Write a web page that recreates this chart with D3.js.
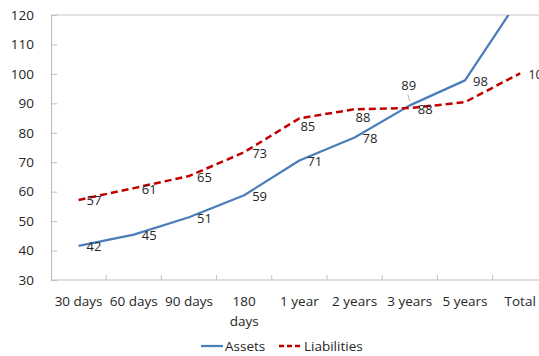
<!DOCTYPE html>
<html>
<head>
<meta charset="utf-8">
<script src="https://cdn.jsdelivr.net/npm/d3@7"></script>
<style>
  html, body { margin: 0; padding: 0; background: #fff; overflow: hidden; }
  svg { display: block; font-family: "Open Sans", "Noto Sans", sans-serif; }
</style>
</head>
<body>
<svg id="chart" width="539" height="356"></svg>
<script>
// ---- data ----
const categories = ["30 days", "60 days", "90 days", "180 days", "1 year", "2 years", "3 years", "5 years", "Total"];
const assetsValues = [41.6, 45.4, 51.3, 58.8, 70.6, 78.4, 89.3, 97.8, 126];
const liabilitiesValues = [57.2, 61.2, 65.3, 73.4, 84.9, 88.0, 88.4, 90.4, 100.2];
const yTicks = [30, 40, 50, 60, 70, 80, 90, 100, 110, 120];
const seriesNames = ["Assets", "Liabilities"];
// label placement per point ("none" = not shown in the picture)
const assetsLabelPos = ["right", "right", "right", "right", "right", "right", "above", "right", "none"];
const liabilitiesLabelPos = ["right", "right", "right", "right", "below", "below", "right", "none", "right"];

(function () {
// ---- layout ----
const svg = d3.select("#chart");
const pLeft = 51, pTop = 15, pBottom = 280, bandW = 55.2;
const pRight = pLeft + bandW * categories.length;
const textColor = "#262626";
const fontSize = 13;

const x = d3.scaleBand().domain(categories).range([pLeft, pRight]).paddingInner(0).paddingOuter(0);
const y = d3.scaleLinear().domain([30, 120]).range([pBottom, pTop]);
const cx = c => x(c) + x.bandwidth() / 2;

// top line at 120
svg.append("line").attr("x1", pLeft).attr("x2", pRight).attr("y1", y(120)).attr("y2", y(120))
  .attr("stroke", "#D9D9D9").attr("stroke-width", 1.5);

// y axis
const yAxis = d3.axisLeft(y).tickValues(yTicks).tickSize(-6).tickPadding(17);
const gy = svg.append("g").attr("transform", `translate(${pLeft},0)`).call(yAxis);
gy.select(".domain").attr("stroke", "#BFBFBF").attr("stroke-width", 1.2);
gy.selectAll(".tick line").attr("stroke", "#BFBFBF");
gy.selectAll(".tick text").attr("fill", textColor).style("font-size", "13.5px")
  .style("font-family", '"Open Sans", "Noto Sans", sans-serif');

// x axis
const gx = svg.append("g").attr("transform", `translate(0,${pBottom})`);
gx.append("line").attr("x1", pLeft).attr("x2", pRight).attr("stroke", "#BFBFBF").attr("stroke-width", 1.2);
const boundaries = categories.map(c => x(c)).concat([pRight]);
gx.selectAll("line.tk").data(boundaries.slice(1)).enter().append("line")
  .attr("class", "tk").attr("x1", d => d).attr("x2", d => d).attr("y1", 0).attr("y2", -5)
  .attr("stroke", "#BFBFBF");
const xl = gx.selectAll("text.xl").data(categories).enter().append("text")
  .attr("class", "xl")
  .attr("x", d => cx(d)).attr("y", 26)
  .attr("text-anchor", "middle").attr("fill", textColor).style("font-size", "13.5px");
xl.each(function (d) {
  const t = d3.select(this);
  t.text(d);
  if (this.getComputedTextLength() > 53) {
    const words = d.split(" ");
    t.text(null);
    words.forEach((w, i) => {
      t.append("tspan").attr("x", cx(d)).attr("dy", i === 0 ? 0 : 20).text(w);
    });
  }
});

// clip
svg.append("clipPath").attr("id", "plotclip").append("rect")
  .attr("x", pLeft).attr("y", pTop).attr("width", pRight - pLeft).attr("height", pBottom - pTop);

const line = d3.line().x((d, i) => cx(categories[i])).y(d => y(d));

const plot = svg.append("g").attr("clip-path", "url(#plotclip)");
plot.append("path").datum(assetsValues).attr("d", line)
  .attr("fill", "none").attr("stroke", "#4A7EBB").attr("stroke-width", 2.25)
  .attr("stroke-linejoin", "round");
plot.append("path").datum(liabilitiesValues).attr("d", line)
  .attr("fill", "none").attr("stroke", "#C00000").attr("stroke-width", 2.5)
  .attr("stroke-dasharray", "7,4");

// data labels
const fmt = d3.format(".0f");
function labels(values, pos) {
  values.forEach((v, i) => {
    if (pos[i] === "none") return;
    const px = cx(categories[i]), py = y(v);
    let lx = px + 8, ly = py + 1, anchor = "start";
    if (pos[i] === "below") { lx = px + 1; ly = py + 8; }
    if (pos[i] === "above") {
      lx = px - 1; ly = py - 20; anchor = "middle";
      svg.append("line").attr("x1", px - 2).attr("y1", py - 11).attr("x2", px).attr("y2", py - 4)
        .attr("stroke", "#A6A6A6").attr("stroke-width", 0.8);
    }
    svg.append("text").attr("x", lx).attr("y", ly).attr("dy", "0.35em")
      .attr("text-anchor", anchor).attr("fill", textColor).style("font-size", fontSize + "px")
      .text(fmt(v));
  });
}
labels(liabilitiesValues, liabilitiesLabelPos);
labels(assetsValues, assetsLabelPos);

// legend
const lg = svg.append("g").attr("transform", "translate(0,346)");
lg.append("line").attr("x1", 201).attr("x2", 223).attr("stroke", "#4A7EBB").attr("stroke-width", 2.25);
lg.append("text").attr("x", 225).attr("dy", "0.35em").attr("fill", textColor).style("font-size", "13.5px").text(seriesNames[0]);
lg.append("line").attr("x1", 279).attr("x2", 303).attr("stroke", "#C00000").attr("stroke-width", 2.5)
  .attr("stroke-dasharray", "5,3");
lg.append("text").attr("x", 304).attr("dy", "0.35em").attr("fill", textColor).style("font-size", "13.5px").text(seriesNames[1]);
})();
</script>
</body>
</html>
